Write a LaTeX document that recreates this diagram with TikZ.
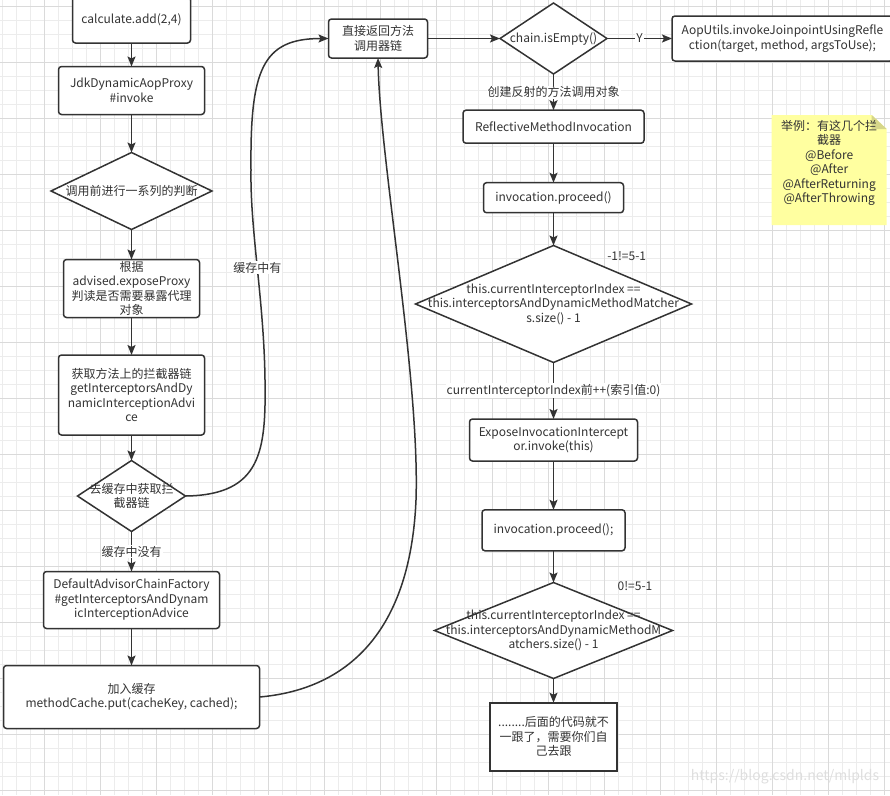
\documentclass[tikz,border=0pt]{standalone}
\usepackage{fontspec}
\setmainfont{Noto Sans CJK SC}
\usepackage{tikz}
\usetikzlibrary{positioning}
\usetikzlibrary{shapes.geometric}
\usetikzlibrary{arrows.meta}
\definecolor{FlowInk}{RGB}{51,51,51}
\definecolor{FlowGridMinor}{RGB}{236,236,236}
\definecolor{FlowGridMajor}{RGB}{218,218,218}
\definecolor{FlowNote}{RGB}{255,255,160}
\definecolor{FlowNoteFold}{RGB}{214,214,138}
\definecolor{FlowMark}{RGB}{222,222,222}

\begin{document}
\begin{tikzpicture}[
x=1pt,
y=-1pt,
every node/.style={font=\fontsize{12}{14.5}\selectfont,text=FlowInk,outer sep=0pt},
gridminor/.style={draw=FlowGridMinor,line width=0.8pt},
gridmajor/.style={draw=FlowGridMajor,line width=1pt},
box/.style={draw=FlowInk,fill=white,rounded corners=3pt,line width=1.5pt,align=center,inner sep=0pt},
endbox/.style={draw=FlowInk,fill=white,line width=1.7pt,align=center,inner sep=0pt},
decision/.style={diamond,draw=FlowInk,fill=white,line width=1.5pt,inner sep=0pt},
dtext/.style={align=center,inner sep=0pt},
edgelabel/.style={fill=white,inner xsep=1pt,inner ysep=1pt},
condlabel/.style={inner sep=0pt},
note/.style={minimum width=115pt,minimum height=110pt,inner sep=0pt,
  path picture={
    \fill[FlowNote] (path picture bounding box.south west) -- (path picture bounding box.north west)
      -- ([xshift=-15pt]path picture bounding box.north east) -- ([yshift=-14pt]path picture bounding box.north east)
      -- (path picture bounding box.south east) -- cycle;
    \fill[FlowNoteFold] ([xshift=-15pt]path picture bounding box.north east) -- ([yshift=-14pt]path picture bounding box.north east)
      -- ([xshift=-15pt,yshift=-14pt]path picture bounding box.north east) -- cycle;
  }},
notetext/.style={align=center,inner sep=0pt},
watermark/.style={font=\fontsize{14}{16}\selectfont,text=FlowMark,inner sep=0pt},
flow/.style={-{Stealth[length=10pt,width=8pt,inset=2pt]},line width=1.5pt,draw=FlowInk,line join=round}
]

\clip (0,0) rectangle (890,795);

% grid
\foreach \gx in {2,16,...,890} \draw[gridminor] (\gx,0) -- (\gx,795);
\foreach \gy in {6,20,...,795} \draw[gridminor] (0,\gy) -- (890,\gy);
\foreach \gx in {44,100,...,890} \draw[gridmajor] (\gx,0) -- (\gx,795);
\foreach \gy in {6,62,...,795} \draw[gridmajor] (0,\gy) -- (890,\gy);

% left column
\node[box,minimum width=118pt,minimum height=46pt] (call) at (131.5,20) {calculate.add(2,4)};
\node[box,minimum width=146pt,minimum height=48pt] (invoke) at (131.5,90.5) {JdkDynamicAopProxy\\\#invoke};
\node[decision,minimum width=161pt,minimum height=77pt,label={[dtext]center:{调用前进行一系列的判断}}] (precheck) at (131.5,191) {};
\node[box,minimum width=136pt,minimum height=58pt] (expose) at (131.5,288.5) {根据\\advised.exposeProxy\\判读是否需要暴露代理\\对象};
\node[box,minimum width=146pt,minimum height=80pt] (getchain) at (131.5,395) {获取方法上的拦截器链\\getInterceptorsAndDy\\namicInterceptionAdvi\\ce};
\node[decision,minimum width=108pt,minimum height=71pt,label={[dtext]center:{去缓存中获取拦\\截器链}}] (cachechk) at (131.5,496) {};
\node[box,minimum width=176pt,minimum height=57pt] (factory) at (131.5,600) {DefaultAdvisorChainFactory\\\#getInterceptorsAndDynam\\icInterceptionAdvice};
\node[box,minimum width=256pt,minimum height=63pt] (cacheput) at (131.5,697) {加入缓存\\methodCache.put(cacheKey, cached);};

% right column
\node[box,minimum width=99pt,minimum height=39pt] (direct) at (378,38.5) {直接返回方法\\调用器链};
\node[decision,minimum width=107pt,minimum height=71pt,label={[dtext]center:{chain.isEmpty()}}] (isempty) at (553.5,38.5) {};
\node[box,minimum width=221pt,minimum height=45pt] (aoputils) at (782.5,38.5) {AopUtils.invokeJoinpointUsingRefle\\ction(target, method, argsToUse);};
\node[box,minimum width=181pt,minimum height=33pt] (reflect) at (553.5,126.7) {ReflectiveMethodInvocation};
\node[box,minimum width=140pt,minimum height=30pt] (proceedA) at (553.5,197.7) {invocation.proceed()};
\node[decision,minimum width=276pt,minimum height=117pt,label={[dtext]center:{this.currentInterceptorIndex ==\\this.interceptorsAndDynamicMethodMatcher\\s.size() - 1}}] (indexchkA) at (553.5,304) {};
\node[box,minimum width=168pt,minimum height=42pt] (exposeinv) at (553.5,440) {ExposeInvocationIntercept\\or.invoke(this)};
\node[box,minimum width=143pt,minimum height=41pt] (proceedB) at (553.5,530.3) {invocation.proceed();};
\node[decision,minimum width=238pt,minimum height=96pt,label={[dtext]center:{this.currentInterceptorIndex ==\\this.interceptorsAndDynamicMethodM\\atchers.size() - 1}}] (indexchkB) at (553.5,630.5) {};
\node[endbox,minimum width=127pt,minimum height=68pt] (rest) at (553.5,736.7) {........后面的代码就不\\一跟了，需要你们自\\己去跟};

\node[condlabel] (condA) at (626.7,256) {-1!=5-1};
\node[condlabel] (condB) at (635,586) {0!=5-1};

% note
\node[note] (note) at (829.2,170) {};
\node[notetext] (notetxt) at (829.2,163) {举例：有这几个拦\\截器\\@Before\\@After\\@AfterReturning\\@AfterThrowing};

\node[watermark] (csdnmark) at (785,777) {https://blog.csdn.net/mlplds};

\coordinate (hitA) at (265,380);
\coordinate (hitB) at (251,170);
\coordinate (putA) at (416,500);

\draw[flow] (call.south) -- (invoke.north);
\draw[flow] (invoke.south) -- (precheck.north);
\draw[flow] (precheck.south) -- (expose.north);
\draw[flow] (expose.south) -- (getchain.north);
\draw[flow] (getchain.south) -- (cachechk.north);
\draw[flow] (cachechk.south) -- node[edgelabel] {缓存中没有} (factory.north);
\draw[flow] (factory.south) -- (cacheput.north);

\draw[flow] (cachechk.east) .. controls (262,495) and (266,450) .. (hitA)
  .. controls (264,300) and (250,230) .. node[edgelabel,pos=0.5] {缓存中有} (hitB)
  .. controls (250,70) and (262,38.5) .. (direct.west);
\draw[flow] (cacheput.east) .. controls (340,690) and (410,640) .. (putA)
  .. controls (420,380) and (380,160) .. (direct.south);

\draw[flow] (direct.east) -- (isempty.west);
\draw[flow] (isempty.east) -- node[edgelabel] {Y} (aoputils.west);
\draw[flow] (isempty.south) -- node[edgelabel] {创建反射的方法调用对象} (reflect.north);
\draw[flow] (reflect.south) -- (proceedA.north);
\draw[flow] (proceedA.south) -- (indexchkA.north);
\draw[flow] (indexchkA.south) -- node[edgelabel] {currentInterceptorIndex前++(索引值:0)} (exposeinv.north);
\draw[flow] (exposeinv.south) -- (proceedB.north);
\draw[flow] (proceedB.south) -- (indexchkB.north);
\draw[flow] (indexchkB.south) -- (rest.north);

\end{tikzpicture}
\end{document}
